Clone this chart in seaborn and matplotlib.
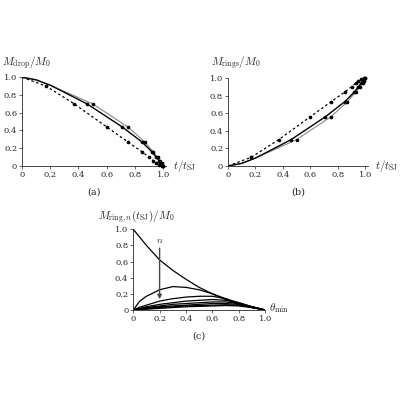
import matplotlib
matplotlib.use("Agg")
import matplotlib.pyplot as plt
import seaborn as sns

sns.set_style("ticks")
plt.rcParams['font.family'] = ['DejaVu Serif']
plt.rcParams['mathtext.fontset'] = 'cm'

# panel (a)/(b) data
t_dash = [0, 0.17, 0.37, 0.60, 0.75, 0.85, 0.90, 0.93, 0.95, 0.97, 0.99]
m_dash = [1.0, 0.90, 0.70, 0.44, 0.27, 0.16, 0.10, 0.06, 0.03, 0.01, 0.0]
t_blk = [0, 0.1, 0.2, 0.3, 0.46, 0.71, 0.85, 0.92, 0.95, 0.97, 0.98, 0.99, 1.0]
m_blk = [1.0, 0.97, 0.91, 0.83, 0.70, 0.44, 0.27, 0.16, 0.10, 0.06, 0.03, 0.01, 0.0]
t_gry = [0, 0.1, 0.2, 0.3, 0.50, 0.75, 0.87, 0.93, 0.96, 0.98, 0.99, 1.0]
m_gry = [1.0, 0.97, 0.91, 0.84, 0.70, 0.44, 0.27, 0.16, 0.10, 0.06, 0.03, 0.0]
mk_blk_from = 4
mk_gry_from = 4
mk_dash_from = 1

# panel (c) data
theta = [0, 0.05, 0.1, 0.2, 0.3, 0.4, 0.5, 0.6, 0.7, 0.8, 0.9, 1.0]
top = [1.0, 0.90, 0.80, 0.62, 0.49, 0.38, 0.28, 0.20, 0.13, 0.07, 0.03, 0.0]
rings = [
    [0, 0.11, 0.17, 0.25, 0.29, 0.28, 0.25, 0.20, 0.14, 0.08, 0.03, 0],
    [0, 0.035, 0.06, 0.11, 0.14, 0.16, 0.17, 0.17, 0.14, 0.09, 0.04, 0],
    [0, 0.02, 0.04, 0.07, 0.09, 0.11, 0.12, 0.13, 0.12, 0.09, 0.04, 0],
    [0, 0.015, 0.03, 0.05, 0.07, 0.08, 0.09, 0.10, 0.10, 0.08, 0.04, 0],
    [0, 0.01, 0.02, 0.04, 0.05, 0.06, 0.07, 0.08, 0.08, 0.07, 0.04, 0],
    [0, 0.008, 0.015, 0.03, 0.04, 0.05, 0.055, 0.06, 0.065, 0.06, 0.035, 0],
    [0, 0.005, 0.01, 0.02, 0.03, 0.04, 0.045, 0.05, 0.055, 0.05, 0.03, 0],
]
ticks = [0, 0.2, 0.4, 0.6, 0.8, 1.0]
ticklabels = ['0', '0.2', '0.4', '0.6', '0.8', '1.0']

fig = plt.figure(figsize=(4, 4), dpi=100)
axa = fig.add_axes([0.055, 0.585, 0.36, 0.222])
axb = fig.add_axes([0.57, 0.585, 0.35, 0.220])
axc = fig.add_axes([0.333, 0.225, 0.33, 0.202])

def style(ax):
    for s in ['top', 'right']:
        ax.spines[s].set_visible(False)
    for s in ['left', 'bottom']:
        ax.spines[s].set_linewidth(0.6)
    ax.set_xlim(0, 1.0)
    ax.set_ylim(0, 1.0)
    ax.set_xticks(ticks)
    ax.set_yticks(ticks)
    ax.set_xticklabels(ticklabels)
    ax.set_yticklabels(ticklabels)
    ax.tick_params(labelsize=6, length=2, width=0.5, pad=1.5)
    ax.set_xlabel(''); ax.set_ylabel('')

def panel(ax, f):
    sns.lineplot(x=t_dash, y=f(m_dash), ax=ax, color='black', lw=0.9, ls=(0, (2, 2)), sort=False)
    sns.lineplot(x=t_gry, y=f(m_gry), ax=ax, color='#888888', lw=0.8, sort=False)
    sns.lineplot(x=t_blk, y=f(m_blk), ax=ax, color='black', lw=1.0, sort=False)
    for t, m, k in [(t_dash, m_dash, mk_dash_from), (t_gry, m_gry, mk_gry_from), (t_blk, m_blk, mk_blk_from)]:
        sns.scatterplot(x=t[k:], y=f(m[k:]), ax=ax, color='black', s=7, linewidth=0, zorder=5, clip_on=False)
    style(ax)
    ax.set_xlim(0, 1.02)
    ax.text(1.05, 0.0, r'$t/t_{\rm SJ}$', transform=ax.transAxes, fontsize=8, va='center')

panel(axa, lambda m: m)
axa.text(-0.14, 1.13, r'$M_{\rm drop}/M_0$', transform=axa.transAxes, fontsize=8)
axa.text(0.5, -0.32, '(a)', transform=axa.transAxes, fontsize=7, ha='center')

panel(axb, lambda m: [1 - v for v in m])
axb.text(-0.12, 1.13, r'$M_{\rm rings}/M_0$', transform=axb.transAxes, fontsize=8)
axb.text(0.5, -0.32, '(b)', transform=axb.transAxes, fontsize=7, ha='center')

sns.lineplot(x=theta, y=top, ax=axc, color='black', lw=0.9)
for r in rings:
    sns.lineplot(x=theta, y=r, ax=axc, color='black', lw=0.9)
style(axc)
axc.annotate('', xy=(0.2, 0.1), xytext=(0.2, 0.8),
             arrowprops=dict(arrowstyle='-|>', color='#444444', lw=1.0, mutation_scale=6))
axc.text(0.2, 0.83, r'$n$', fontsize=7, ha='center')
axc.text(1.03, 0.02, r'$\theta_{\rm min}$', transform=axc.transAxes, fontsize=8, va='center')
axc.text(-0.27, 1.12, r'$M_{{\rm ring},n}(t_{\rm SJ})/M_0$', transform=axc.transAxes, fontsize=8)
axc.text(0.5, -0.35, '(c)', transform=axc.transAxes, fontsize=7, ha='center')

fig.savefig('out.png', dpi=100)
